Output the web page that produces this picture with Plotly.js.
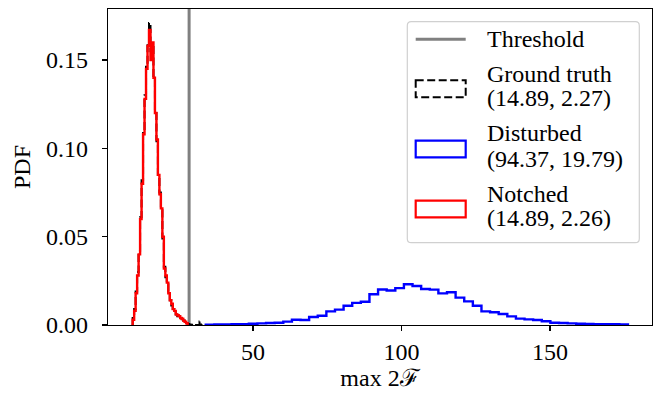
<!DOCTYPE html>
<html>
<head>
<meta charset="utf-8">
<script src="https://cdn.plot.ly/plotly-3.0.1.min.js"></script>
<style>html,body{margin:0;padding:0;background:#fff;}#chart{width:655px;height:394px;}</style>
</head>
<body>
<div id="chart"></div>
<script>
// ---- data ----
const threshold = 28.5;

// Ground truth / Notched: bins of width 0.5 starting at 9.5
const narrowStart = 9.5;
const narrowWidth = 0.5;
const notchedPdf = [0.003, 0.008, 0.018, 0.028, 0.040, 0.060, 0.080, 0.108, 0.128, 0.145,
  0.158, 0.167, 0.150, 0.160, 0.140, 0.120, 0.105, 0.085, 0.074, 0.066,
  0.050, 0.032, 0.028, 0.024, 0.018, 0.014, 0.012, 0.009, 0.008, 0.006,
  0.0055, 0.005, 0.004, 0.0035, 0.0025, 0.0018, 0.001];
const groundTruthPdf = [0.004, 0.009, 0.019, 0.030, 0.042, 0.061, 0.082, 0.110, 0.130, 0.147,
  0.160, 0.171, 0.155, 0.158, 0.141, 0.121, 0.104, 0.084, 0.075, 0.065,
  0.049, 0.033, 0.027, 0.023, 0.019, 0.014, 0.011, 0.009, 0.008, 0.006,
  0.005, 0.0052, 0.004, 0.0033, 0.0026, 0.0017, 0.0012, 0.0005, 0.0003, 0.0002,
  0.0, 0.0002, 0.0, 0.0, 0.0, 0.0020, 0.0];

// Disturbed: bins of width 2.9 starting at 34.1
const wideStart = 34.1;
const wideWidth = 2.9;
const disturbedPdf = [0.0002, 0.0003, 0.0003, 0.0004, 0.0005, 0.0007, 0.0009, 0.0011, 0.0013,
  0.0019, 0.0030, 0.0028, 0.0045, 0.0052, 0.0077, 0.0087, 0.0109, 0.0125, 0.0132,
  0.0174, 0.0201, 0.0195, 0.0209, 0.0231, 0.0221, 0.0204, 0.0200, 0.0179, 0.0185,
  0.0155, 0.0134, 0.0109, 0.0077, 0.0072, 0.0062, 0.0049, 0.0036, 0.0032, 0.0028,
  0.0021, 0.0013, 0.0011, 0.0009, 0.0007, 0.0006, 0.0005, 0.0005, 0.0004, 0.0003];

const seriesNames = ['Ground truth', 'Disturbed', 'Notched'];
const seriesStats = ['(14.89, 2.27)', '(94.37, 19.79)', '(14.89, 2.26)'];
const thresholdName = 'Threshold';
const xTicks = [50, 100, 150];
const yTicks = [0, 0.05, 0.10, 0.15];

// ---- helpers ----
function stepTrace(start, width, vals, color, dash, lw, name) {
  const xs = [start], ys = [0];
  for (let i = 0; i < vals.length; i++) { xs.push(start + i * width); ys.push(vals[i]); }
  const end = start + vals.length * width;
  xs.push(end); ys.push(vals[vals.length - 1]);
  xs.push(end); ys.push(0);
  return {type: 'scatter', mode: 'lines', x: xs, y: ys, name: name, showlegend: false,
    line: {shape: 'hv', color: color, width: lw, dash: dash}, hoverinfo: 'skip'};
}

const FONT = 'Liberation Serif, DejaVu Serif, serif';
const FS = 24;
const W = 655, H = 394, L = 108, R = 652, T = 9, B = 325;
const px = x => (x - L) / (R - L);
const py = y => (B - y) / (B - T);
const DASH = '8px,3.5px';

const traces = [
  stepTrace(wideStart, wideWidth, disturbedPdf, '#0000ff', 'solid', 2.4, seriesNames[1]),
  stepTrace(narrowStart, narrowWidth, groundTruthPdf, '#000000', DASH, 2, seriesNames[0]),
  stepTrace(narrowStart, narrowWidth, notchedPdf, '#ff0000', 'solid', 2.4, seriesNames[2])
];

// ---- manual legend (matplotlib style) ----
const lx0 = 407.3, lx1 = 639.3, ly0 = 21.7, ly1 = 242.7, rad = 4;
const framePath =
  `M ${px(lx0 + rad)} ${py(ly0)} L ${px(lx1 - rad)} ${py(ly0)} Q ${px(lx1)} ${py(ly0)} ${px(lx1)} ${py(ly0 + rad)} ` +
  `L ${px(lx1)} ${py(ly1 - rad)} Q ${px(lx1)} ${py(ly1)} ${px(lx1 - rad)} ${py(ly1)} ` +
  `L ${px(lx0 + rad)} ${py(ly1)} Q ${px(lx0)} ${py(ly1)} ${px(lx0)} ${py(ly1 - rad)} ` +
  `L ${px(lx0)} ${py(ly0 + rad)} Q ${px(lx0)} ${py(ly0)} ${px(lx0 + rad)} ${py(ly0)} Z`;

const hx0 = 415.7, hx1 = 465.7, tx = 485;
const shapes = [
  {type: 'line', xref: 'x', yref: 'paper', x0: threshold, x1: threshold, y0: 0, y1: 1,
   line: {color: '#808080', width: 3}, layer: 'below'},
  {type: 'path', xref: 'paper', yref: 'paper', path: framePath,
   line: {color: '#d0d0d0', width: 1.2}, fillcolor: 'rgba(255,255,255,0.8)'},
  {type: 'line', xref: 'paper', yref: 'paper', x0: px(hx0), x1: px(hx1), y0: py(39.3), y1: py(39.3),
   line: {color: '#808080', width: 3}},
  {type: 'rect', xref: 'paper', yref: 'paper', x0: px(hx0), x1: px(hx1), y0: py(80.3), y1: py(97.3),
   line: {color: '#000000', width: 2, dash: DASH}},
  {type: 'rect', xref: 'paper', yref: 'paper', x0: px(hx0), x1: px(hx1), y0: py(140.7), y1: py(157.3),
   line: {color: '#0000ff', width: 2.2}},
  {type: 'rect', xref: 'paper', yref: 'paper', x0: px(hx0), x1: px(hx1), y0: py(200.7), y1: py(217.3),
   line: {color: '#ff0000', width: 2.2}}
];

const legendTexts = [
  [thresholdName, 39.3],
  [seriesNames[0], 73.5], [seriesStats[0], 98.3],
  [seriesNames[1], 132.7], [seriesStats[1], 158.5],
  [seriesNames[2], 193.5], [seriesStats[2], 218.3]
];
const annotations = legendTexts.map(([t, y]) => ({
  xref: 'paper', yref: 'paper', x: px(tx), y: py(y), xanchor: 'left', yanchor: 'middle',
  text: t, showarrow: false, font: {family: FONT, size: FS, color: '#000'}
}));

const layout = {
  width: W, height: H,
  margin: {l: L, r: W - R, t: T, b: H - B, pad: 0},
  paper_bgcolor: '#fff', plot_bgcolor: '#fff',
  font: {family: FONT, size: FS, color: '#000'},
  showlegend: false,
  xaxis: {
    range: [1.2, 184.3], tickvals: xTicks, ticktext: xTicks.map(String),
    ticks: 'outside', ticklen: 5, tickwidth: 1.3, tickcolor: '#000',
    showline: true, mirror: true, linecolor: '#000', linewidth: 1.3,
    showgrid: false, zeroline: false,
    title: {text: 'max 2ℱ', font: {family: FONT, size: FS}, standoff: 4},
    automargin: false
  },
  yaxis: {
    range: [0, 0.1789], tickvals: yTicks, ticktext: yTicks.map(v => v.toFixed(2)),
    ticks: 'outside', ticklen: 5, tickwidth: 1.3, tickcolor: '#000',
    ticklabelstandoff: 9,
    showline: true, mirror: true, linecolor: '#000', linewidth: 1.3,
    showgrid: false, zeroline: false,
    title: {text: 'PDF', font: {family: FONT, size: FS}, standoff: 8},
    automargin: false
  },
  shapes: shapes,
  annotations: annotations
};

Plotly.newPlot('chart', traces, layout, {staticPlot: true, displayModeBar: false});
</script>
</body>
</html>
